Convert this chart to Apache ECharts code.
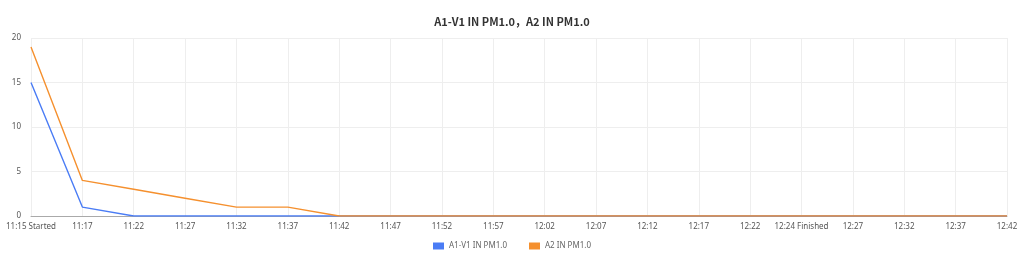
<!DOCTYPE html>
<html><head><meta charset="utf-8">
<script src="https://cdn.jsdelivr.net/npm/echarts@6/dist/echarts.min.js"></script>
<style>html,body{margin:0;padding:0;background:#fff}#c{width:1024px;height:271px}</style>
</head><body><div id="c"></div>
<script>
const categories = ['11:15 Started','11:17','11:22','11:27','11:32','11:37','11:42','11:47','11:52','11:57','12:02','12:07','12:12','12:17','12:22','12:24 Finished','12:27','12:32','12:37','12:42'];
const seriesA1V1 = [15,1,0,0,0,0,0,0,0,0,0,0,0,0,0,0,0,0,0,0];
const seriesA2 = [19,4,3,2,1,1,0,0,0,0,0,0,0,0,0,0,0,0,0,0];
const titleText = 'A1-V1 IN PM1.0，A2 IN PM1.0';
const font = '"Noto Sans", sans-serif';
const chart = echarts.init(document.getElementById('c'));
chart.setOption({
  animation:false,
  textStyle:{fontFamily:font},
  title:{text:titleText,left:'center',top:11,textStyle:{fontSize:11,fontWeight:'bold',color:'#333',fontFamily:'"Noto Sans CJK SC", "Noto Sans", sans-serif'}},
  legend:{bottom:16,left:'center',itemWidth:11,itemHeight:7,itemGap:22,icon:'rect',textStyle:{fontSize:8,color:'#666',fontFamily:font},
    data:['A1-V1 IN PM1.0','A2 IN PM1.0']},
  grid:{left:31,right:17,top:38,bottom:55,containLabel:false},
  xAxis:{type:'category',boundaryGap:false,data:categories,
    axisLine:{lineStyle:{color:'#aaa'}},axisTick:{show:false},
    axisLabel:{interval:0,fontSize:8,color:'#555',margin:7,fontFamily:font},
    splitLine:{show:true,lineStyle:{color:'#eee'}}},
  yAxis:{type:'value',min:0,max:20,interval:5,
    axisLine:{show:false},axisTick:{show:false},
    axisLabel:{fontSize:8,color:'#555',margin:10,fontFamily:font},
    splitLine:{lineStyle:{color:'#eee'}}},
  series:[
    {name:'A1-V1 IN PM1.0',type:'line',data:seriesA1V1,showSymbol:false,color:'#4a7cf5',lineStyle:{width:1.4}},
    {name:'A2 IN PM1.0',type:'line',data:seriesA2,showSymbol:false,color:'#f5902e',lineStyle:{width:1.4}}
  ]
});
</script></body></html>
